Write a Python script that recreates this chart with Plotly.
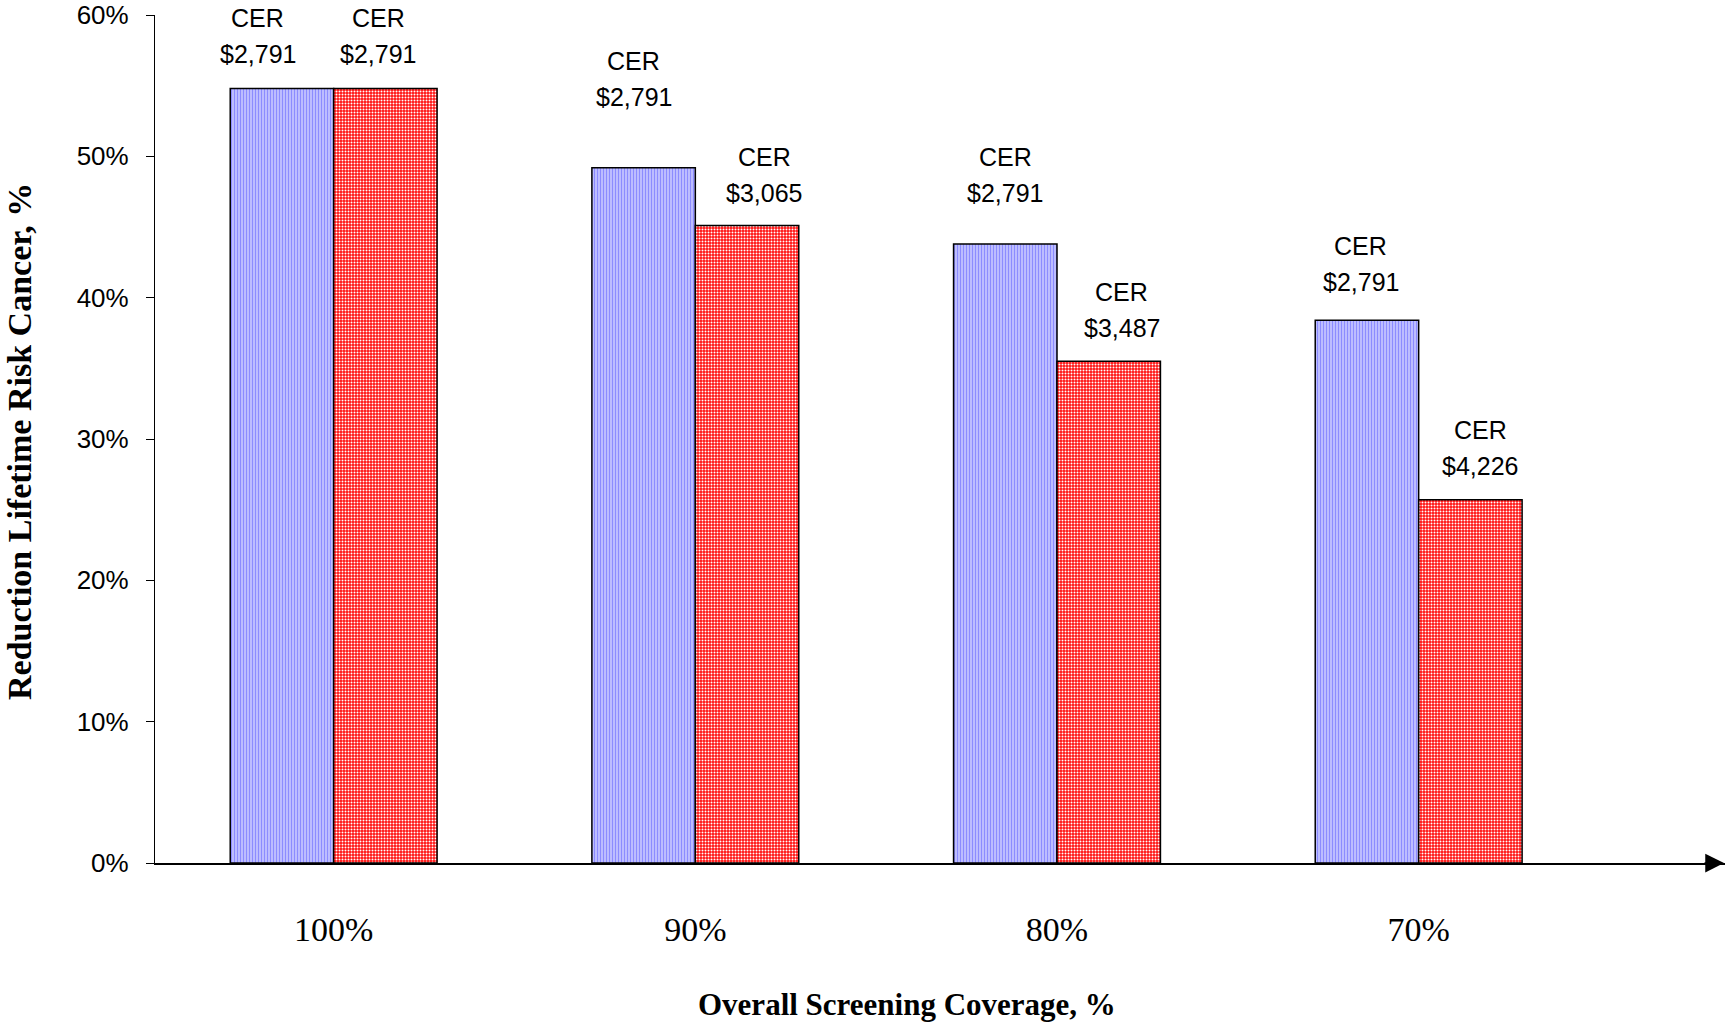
import plotly.graph_objects as go

categories = ["100%", "90%", "80%", "70%"]
uniform_vals = [0.548, 0.492, 0.438, 0.384]
targeted_vals = [0.548, 0.451, 0.355, 0.257]
uniform_cer = ["$2,791", "$2,791", "$2,791", "$2,791"]
targeted_cer = ["$2,791", "$3,065", "$3,487", "$4,226"]
y_ticks = [0, 0.1, 0.2, 0.3, 0.4, 0.5, 0.6]

# label placement tweaks (pixels): horizontal shift, centre height above bar top
uniform_dx = [-24, -10, 0, -6]
uniform_dy = [52, 89, 69, 56]
targeted_dx = [-7, 17, 13, 10]
targeted_dy = [52, 51, 51, 52]

W, H = 1725, 1023
ML, MR, MT, MB = 155, 0, 15, 160
PW, PH = W - ML - MR, H - MT - MB

BARGAP = 0.428
half = (1 - BARGAP) / 4  # offset of each bar centre from category centre

fig = go.Figure()
fig.add_trace(go.Bar(
    x=categories, y=uniform_vals, name="uniform",
    marker=dict(color="#c0c0ff", line=dict(color="black", width=1.5),
                pattern=dict(shape="|", fgcolor="#8c8cff", bgcolor="#d4d4ff",
                             size=3, solidity=0.55, fgopacity=1)),
))
fig.add_trace(go.Bar(
    x=categories, y=targeted_vals, name="targeted",
    marker=dict(color="#ff0000", line=dict(color="black", width=1.5),
                pattern=dict(shape=".", fgcolor="#ffffff", bgcolor="#ff1010",
                             size=3, solidity=0.35, fgopacity=1)),
))

ann = []
label_font = dict(family="Liberation Sans, Arial, sans-serif", size=25, color="black")
for i in range(len(categories)):
    for vals, cers, dxs, dys, sgn in [
        (uniform_vals, uniform_cer, uniform_dx, uniform_dy, -1),
        (targeted_vals, targeted_cer, targeted_dx, targeted_dy, 1),
    ]:
        xpos = i + sgn * half
        ann.append(dict(x=xpos, y=vals[i], xref="x", yref="y", text="CER",
                        showarrow=False, font=label_font, yanchor="middle",
                        xshift=dxs[i], yshift=dys[i] + 18))
        ann.append(dict(x=xpos, y=vals[i], xref="x", yref="y", text=cers[i],
                        showarrow=False, font=label_font, yanchor="middle",
                        xshift=dxs[i], yshift=dys[i] - 18))

# axis titles
ann.append(dict(x=(907 - ML) / PW, y=-(1004 - (H - MB)) / PH, xref="paper", yref="paper",
                text="<b>Overall Screening Coverage, %</b>", showarrow=False,
                xanchor="center", yanchor="middle",
                font=dict(family="Liberation Serif, Times New Roman, serif", size=31, color="black")))
ann.append(dict(x=(19 - ML) / PW, y=((H - MB) - 442) / PH, xref="paper", yref="paper",
                text="<b>Reduction Lifetime Risk Cancer, %</b>", showarrow=False,
                textangle=-90, xanchor="center", yanchor="middle",
                font=dict(family="Liberation Serif, Times New Roman, serif", size=34, color="black")))
# arrow at end of x axis
ann.append(dict(x=1, y=0, xref="paper", yref="y", ax=-22, ay=0, axref="pixel", ayref="pixel",
                showarrow=True, arrowhead=2, arrowsize=2.5, arrowwidth=1.5, arrowcolor="black",
                standoff=0, text=""))

fig.update_layout(
    width=W, height=H, autosize=False,
    margin=dict(l=ML, r=MR, t=MT, b=MB),
    paper_bgcolor="white", plot_bgcolor="white",
    barmode="group", bargap=BARGAP, bargroupgap=0,
    showlegend=False,
    annotations=ann,
    xaxis=dict(range=[-0.494, 3.847], showgrid=False, zeroline=False,
               showline=True, linecolor="black", linewidth=1.5,
               ticks="", ticklabelstandoff=35,
               tickfont=dict(family="Liberation Serif, Times New Roman, serif", size=34, color="black")),
    yaxis=dict(range=[0, 0.6], tickvals=y_ticks, tickformat=".0%",
               showgrid=False, zeroline=False,
               showline=True, linecolor="black", linewidth=1.2,
               ticks="outside", ticklen=8, tickcolor="black", tickwidth=1.2,
               ticklabelstandoff=12,
               tickfont=dict(family="Liberation Sans, Arial, sans-serif", size=26, color="black")),
)

fig.write_html("out.html")
